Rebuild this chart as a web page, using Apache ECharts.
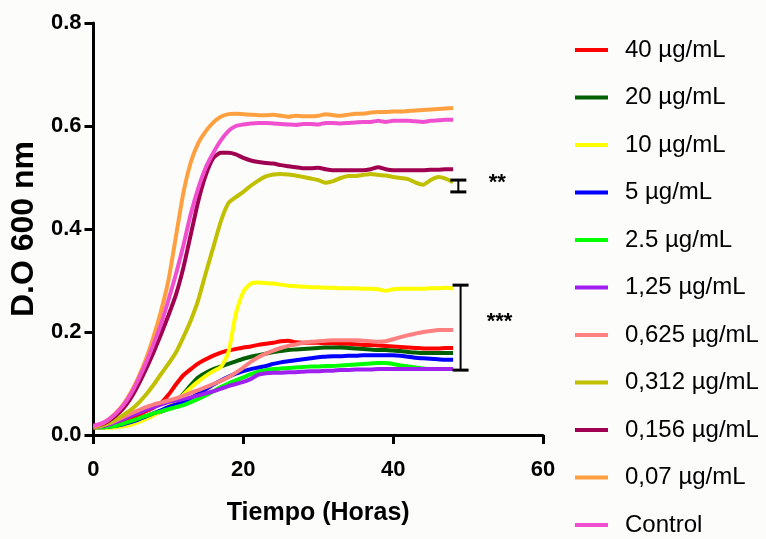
<!DOCTYPE html>
<html>
<head>
<meta charset="utf-8">
<script src="https://cdn.jsdelivr.net/npm/echarts@6/dist/echarts.min.js"></script>
<style>
html,body{margin:0;padding:0;background:#fcfcfa;}
#chart{width:766px;height:539px;}
</style>
</head>
<body>
<div id="chart"></div>
<script>
// ---------- data ----------
const hours = [0,1,2,3,4,5,6,7,8,9,10,11,12,13,14,15,16,17,18,19,20,21,22,23,24,25,26,27,28,29,30,31,32,33,34,35,36,37,38,39,40,41,42,43,44,45,46,47,48];

const seriesNames = ['40 µg/mL','20 µg/mL','10 µg/mL','5 µg/mL','2.5 µg/mL','1,25 µg/mL','0,625 µg/mL','0,312 µg/mL','0,156 µg/mL','0,07 µg/mL','Control'];
const seriesColors = ['#ff0000','#006000','#ffff00','#0000ff','#00ff00','#a020f0','#ff8080','#c0c000','#a00050','#ffa040','#f050d0'];

const od40 = [.015,.016,.018,.021,.026,.032,.039,.046,.053,.062,.078,.098,.116,.128,.139,.147,.154,.160,.164,.167,.170,.172,.175,.177,.179,.182,.183,.180,.179,.179,.179,.178,.178,.177,.177,.176,.175,.175,.174,.173,.172,.171,.170,.169,.168,.168,.168,.169,.169];
const od20 = [.015,.015,.016,.018,.021,.026,.031,.036,.041,.045,.052,.065,.080,.097,.112,.121,.128,.133,.138,.143,.148,.152,.155,.158,.161,.163,.165,.166,.167,.168,.169,.170,.170,.170,.169,.168,.167,.166,.165,.165,.164,.163,.161,.160,.159,.159,.159,.159,.159];
const od10 = [.015,.014,.014,.015,.017,.020,.025,.031,.038,.046,.055,.066,.078,.092,.104,.115,.124,.132,.160,.235,.278,.294,.296,.295,.294,.292,.290,.289,.288,.287,.287,.286,.286,.285,.285,.285,.284,.284,.283,.280,.283,.284,.284,.284,.284,.285,.285,.286,.285];
const od5 = [.015,.015,.016,.018,.021,.025,.030,.036,.042,.048,.054,.059,.064,.072,.080,.089,.098,.106,.113,.119,.124,.128,.131,.134,.138,.141,.143,.145,.147,.149,.151,.152,.153,.153,.154,.154,.155,.155,.155,.155,.155,.154,.152,.150,.149,.148,.147,.146,.146];
const od2_5 = [.015,.015,.016,.018,.022,.027,.032,.037,.042,.046,.050,.054,.058,.064,.070,.077,.085,.093,.100,.106,.112,.118,.123,.126,.128,.129,.130,.131,.132,.133,.133,.134,.134,.135,.136,.137,.138,.139,.140,.140,.138,.135,.133,.131,.129,.128,.128,.128,.128];
const od1_25 = [.015,.017,.020,.025,.031,.037,.043,.049,.054,.059,.064,.067,.070,.073,.077,.081,.085,.090,.095,.099,.103,.109,.117,.120,.121,.121,.122,.122,.123,.124,.124,.125,.125,.126,.126,.127,.127,.127,.128,.128,.128,.128,.128,.128,.128,.128,.128,.128,.128];
const od0_625 = [.015,.018,.022,.028,.035,.042,.048,.054,.059,.063,.067,.071,.076,.082,.087,.093,.099,.105,.112,.121,.131,.142,.151,.158,.164,.169,.173,.176,.179,.181,.182,.183,.184,.184,.184,.184,.183,.182,.181,.182,.186,.190,.194,.197,.200,.202,.204,.204,.204];
const od0_312 = [.015,.018,.023,.030,.039,.049,.062,.078,.097,.118,.138,.160,.190,.223,.263,.315,.365,.415,.450,.462,.472,.484,.494,.502,.506,.507,.506,.504,.501,.498,.495,.490,.493,.499,.503,.503,.505,.507,.505,.504,.501,.499,.497,.490,.486,.495,.501,.498,.491];
const od0_156 = [.016,.020,.027,.038,.052,.072,.098,.128,.160,.195,.232,.272,.325,.390,.455,.505,.538,.548,.548,.545,.538,.533,.530,.528,.527,.524,.522,.520,.518,.518,.519,.516,.514,.514,.514,.514,.514,.516,.520,.516,.514,.514,.514,.514,.514,.515,.515,.516,.516];
const od0_07 = [.016,.021,.030,.043,.060,.083,.112,.147,.190,.240,.300,.385,.470,.530,.567,.590,.607,.618,.623,.624,.623,.622,.621,.621,.622,.620,.618,.620,.619,.619,.620,.623,.621,.620,.622,.624,.624,.626,.627,.627,.628,.628,.629,.630,.631,.632,.633,.634,.635];
const odControl = [.018,.022,.030,.042,.058,.080,.108,.140,.176,.215,.262,.312,.368,.430,.480,.520,.548,.572,.590,.600,.603,.605,.606,.606,.605,.604,.603,.602,.604,.604,.603,.606,.606,.605,.606,.607,.608,.608,.610,.608,.610,.610,.610,.609,.608,.610,.611,.612,.612];
const seriesValues = [od40,od20,od10,od5,od2_5,od1_25,od0_625,od0_312,od0_156,od0_07,odControl];

const xTickLabels = ['0','20','40','60'];
const yTickLabels = ['0.0','0.2','0.4','0.6','0.8'];

// significance brackets: x, low, high ; star text at (textX, textY)
const bracketX = [48.7, 49.0];
const bracketLow = [0.472, 0.126];
const bracketHigh = [0.495, 0.291];
const starText = ['**', '***'];
const starX = [53.9, 54.2];
const starY = [0.489, 0.219];

// ---------- fonts ----------
const HF = '"Liberation Sans", Arial, sans-serif';
const sz = {legend:24, tick:22, xname:25};

// ---------- chart ----------
const chart = echarts.init(document.getElementById('chart'), null, {renderer:'canvas'});

const lineSeries = seriesNames.map((n,i)=>({
  name:n,
  type:'line',
  data: hours.map((h,j)=>[h, seriesValues[i][j]]),
  showSymbol:false,
  symbol:'none',
  smooth:0.2,
  lineStyle:{width:4, color:seriesColors[i]},
  itemStyle:{color:seriesColors[i]},
  z:2+i
}));

const bracketSeries = {
  type:'custom',
  name:'brackets',
  clip:false,
  silent:true,
  z:30,
  data: bracketX.map((x,i)=>[x, bracketLow[i], bracketHigh[i]]),
  renderItem:function(params, api){
    const lo = api.coord([api.value(0), api.value(1)]);
    const hi = api.coord([api.value(0), api.value(2)]);
    const hw = 8;
    return {
      type:'group',
      children:[
        {type:'line', shape:{x1:lo[0], y1:lo[1], x2:hi[0], y2:hi[1]}, style:{stroke:'#000', lineWidth:2}},
        {type:'line', shape:{x1:lo[0]-hw, y1:lo[1], x2:lo[0]+hw, y2:lo[1]}, style:{stroke:'#000', lineWidth:3}},
        {type:'line', shape:{x1:hi[0]-hw, y1:hi[1], x2:hi[0]+hw, y2:hi[1]}, style:{stroke:'#000', lineWidth:3}}
      ]
    };
  }
};

const starSeries = {
  type:'custom',
  name:'stars',
  clip:false,
  silent:true,
  z:30,
  data: starX.map((x,i)=>[x, starY[i], i]),
  renderItem:function(params, api){
    const p = api.coord([api.value(0), api.value(1)]);
    return {
      type:'text',
      x:p[0], y:p[1],
      style:{text:starText[api.value(2)], font:'bold 22px ' + HF, fill:'#000', align:'center', verticalAlign:'middle'}
    };
  }
};

chart.setOption({
  backgroundColor:'#fcfcfa',
  animation:false,
  grid:{left:92, top:23, width:451, height:412, containLabel:false},
  legend:{
    orient:'vertical',
    left:575, top:36,
    padding:0,
    itemWidth:33, itemHeight:4,
    itemGap:19.5,
    icon:'rect',
    data:seriesNames,
    textStyle:{fontFamily:HF, fontSize:sz.legend, color:'#000', lineHeight:28, padding:[0,0,0,12]}
  },
  xAxis:{
    type:'value', min:0, max:60, interval:20,
    name:'Tiempo (Horas)', nameLocation:'middle', nameGap:66,
    nameTextStyle:{fontFamily:HF, fontWeight:'bold', fontSize:sz.xname, color:'#000'},
    axisLine:{show:true, onZero:false, lineStyle:{color:'#000', width:3}},
    axisTick:{show:true, length:9, lineStyle:{color:'#000', width:3}},
    axisLabel:{fontFamily:HF, fontWeight:'bold', fontSize:sz.tick, color:'#000', margin:24,
      formatter:function(v){ const i = [0,20,40,60].indexOf(v); return i>=0 ? xTickLabels[i] : ''; }},
    splitLine:{show:false}
  },
  yAxis:{
    type:'value', min:0, max:0.8, interval:0.2,
    name:'D.O 600 nm', nameLocation:'middle', nameGap:50, nameRotate:90,
    nameTextStyle:{fontFamily:HF, fontWeight:'bold', fontSize:32, color:'#000'},
    axisLine:{show:true, onZero:false, lineStyle:{color:'#000', width:3}},
    axisTick:{show:true, length:9, lineStyle:{color:'#000', width:3}},
    axisLabel:{fontFamily:HF, fontWeight:'bold', fontSize:sz.tick, color:'#000', margin:12,
      formatter:function(v){ return yTickLabels[Math.round(v/0.2)] || ''; }},
    splitLine:{show:false}
  },
  series: lineSeries.concat([bracketSeries, starSeries])
});
</script>
</body>
</html>
